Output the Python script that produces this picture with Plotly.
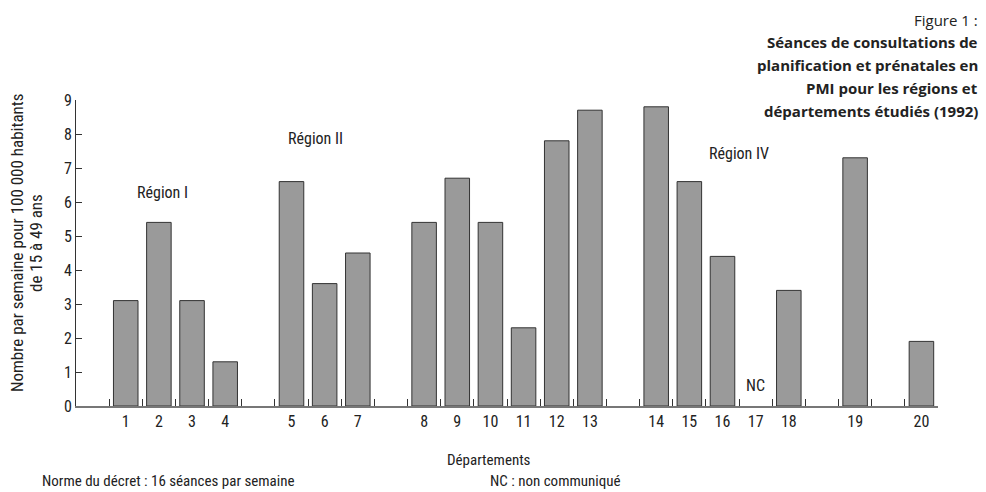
import plotly.graph_objects as go

# ---- data ----
departements = ["1", "2", "3", "4", "5", "6", "7", "8", "9", "10",
                "11", "12", "13", "14", "15", "16", "17", "18", "19", "20"]
valeurs = [3.1, 5.4, 3.1, 1.3, 6.6, 3.6, 4.5, 5.4, 6.7, 5.4,
           2.3, 7.8, 8.7, 8.8, 6.6, 4.4, None, 3.4, 7.3, 1.9]
# groups of departments drawn side by side (a blank slot between groups)
groupes = [["1", "2", "3", "4"], ["5", "6", "7"],
           ["8", "9", "10", "11", "12", "13"],
           ["14", "15", "16", "17", "18"], ["19"], ["20"]]
regions = ["Région I", "Région II", "Région III", "Région IV"]
non_communique = ["17"]

# ---- build category order with blank spacer slots ----
val_map = dict(zip(departements, valeurs))
cats, ys = [], []
blank = 1
cats.append(" " * blank); ys.append(None); blank += 1
for i, g in enumerate(groupes):
    if i > 0:
        cats.append(" " * blank); ys.append(None); blank += 1
    for d in g:
        cats.append(d); ys.append(val_map[d])

NARROW = "Liberation Sans Narrow, Roboto Condensed, Arial Narrow, Roboto, sans-serif"
BOLD = "Open Sans, Lato, sans-serif"
TXT = "#222222"

fig = go.Figure()
fig.add_trace(go.Bar(
    x=cats, y=ys,
    marker=dict(color="#9a9a9a", line=dict(color="#333333", width=1)),
    width=0.74, hoverinfo="skip"))

W, H = 986, 492
L, R, T, B = 76, 48, 100, 86
pw, ph = W - L - R, H - T - B

def px(x):
    return (x - L) / pw

def py(y):
    return (H - B - y) / ph

ann = []
# region labels (in data coordinates: category index, value)
reg_pos = [(2.12, 6.27), (6.71, 7.88), (12.59, 9.53), (19.5, 7.44)]
for name, (xi, yv) in zip(regions, reg_pos):
    ann.append(dict(x=xi, y=yv, xref="x", yref="y", text=name, showarrow=False,
                    font=dict(family=NARROW, size=16, color=TXT)))
for d in non_communique:
    ann.append(dict(x=cats.index(d), y=0, xref="x", yref="y", text="NC",
                    showarrow=False, yanchor="bottom", yshift=9,
                    font=dict(family=NARROW, size=16, color=TXT)))

# title block (right aligned)
title_lines = [("Figure 1 :", False, 20),
               ("Séances de consultations de", True, 42),
               ("planification et prénatales en", True, 65),
               ("PMI pour les régions et", True, 88),
               ("départements étudiés (1992)", True, 111)]
for txt, bold, yy in title_lines:
    ann.append(dict(x=px(980), y=py(yy), xref="paper", yref="paper",
                    xanchor="right", yanchor="middle", showarrow=False,
                    text=("<b>%s</b>" % txt) if bold else txt,
                    font=dict(family=BOLD, size=15, color=TXT)))

# y axis title (two lines)
ann.append(dict(x=px(17), y=py(243), xref="paper", yref="paper", textangle=-90,
                showarrow=False, xanchor="center", yanchor="middle",
                text="Nombre par semaine pour 100 000 habitants",
                font=dict(family=NARROW, size=17, color=TXT)))
ann.append(dict(x=px(36), y=py(243), xref="paper", yref="paper", textangle=-90,
                showarrow=False, xanchor="center", yanchor="middle",
                text="de 15 à 49 ans",
                font=dict(family=NARROW, size=17, color=TXT)))

# x axis title and footnotes
ann.append(dict(x=px(489), y=py(460), xref="paper", yref="paper", showarrow=False,
                xanchor="center", yanchor="middle", text="Départements",
                font=dict(family=NARROW, size=15, color=TXT)))
ann.append(dict(x=px(40), y=py(481), xref="paper", yref="paper", showarrow=False,
                xanchor="left", yanchor="middle",
                text="Norme du décret : 16 séances par semaine",
                font=dict(family=NARROW, size=15, color=TXT)))
ann.append(dict(x=px(488), y=py(481), xref="paper", yref="paper", showarrow=False,
                xanchor="left", yanchor="middle", text="NC : non communiqué",
                font=dict(family=NARROW, size=15, color=TXT)))

fig.update_layout(
    width=W, height=H,
    margin=dict(l=L, r=R, t=T, b=B, autoexpand=False),
    paper_bgcolor="white", plot_bgcolor="white",
    showlegend=False,
    annotations=ann,
    xaxis=dict(type="category", categoryorder="array", categoryarray=cats,
               range=[-0.5, len(cats) - 0.5], tickson="boundaries",
               ticks="inside", ticklen=7, tickcolor="#333333", tickwidth=1,
               showline=True, linecolor="#777777", linewidth=2,
               showgrid=False, zeroline=False, fixedrange=True,
               tickfont=dict(family=NARROW, size=16, color=TXT)),
    yaxis=dict(range=[0, 9], dtick=1, ticks="inside", ticklen=6,
               tickcolor="#333333", tickwidth=1,
               showline=True, linecolor="#333333", linewidth=1,
               showgrid=False, zeroline=False, fixedrange=True,
               tickfont=dict(family=NARROW, size=16, color=TXT)),
)

fig.write_html("out.html", config={"displayModeBar": False},
               post_script="document.body.style.margin='0';document.body.style.overflow='hidden';")
